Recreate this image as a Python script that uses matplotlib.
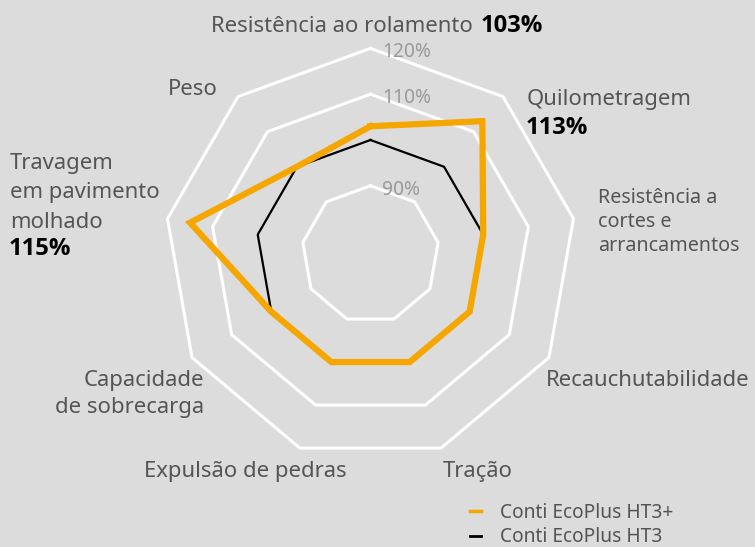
import numpy as np
import matplotlib.pyplot as plt
from matplotlib.lines import Line2D

plt.rcParams["font.family"] = ["Noto Sans", "DejaVu Sans"]

# ---- data -------------------------------------------------------------
categories = [
    "Resistência ao rolamento",
    "Quilometragem",
    "Resistência a\ncortes e\narrancamentos",
    "Recauchutabilidade",
    "Tração",
    "Expulsão de pedras",
    "Capacidade\nde sobrecarga",
    "Travagem\nem pavimento\nmolhado",
    "Peso",
]
ht3_plus = [103, 113, 100, 100, 100, 100, 100, 115, 100]
ht3 = [100, 100, 100, 100, 100, 100, 100, 100, 100]
ring_levels = [90, 110, 120]
ring_labels = ["90%", "110%", "120%"]
series_names = ["Conti EcoPlus HT3+", "Conti EcoPlus HT3"]

# ---- style ------------------------------------------------------------
BG = "#dcdcdc"
ORANGE = "#f5a700"
LABEL = "#555555"
RINGTXT = "#9a9a9a"
BOLD_FAMILY = ["Open Sans", "Lato", "DejaVu Sans"]
W, H = 755, 547


def fx(x):
    return x / W


def fy(y):
    return 1 - y / H


fig = plt.figure(figsize=(W / 100, H / 100), dpi=100, facecolor=BG)
ax = fig.add_axes([0.1874, 0.1161, 0.6066, 0.8373], projection="polar")
ax.set_theta_offset(np.pi / 2)
ax.set_theta_direction(-1)
ax.set_ylim(75, 125)
ax.set_axis_off()

n = len(categories)
theta = np.linspace(0, 2 * np.pi, n, endpoint=False)
theta_c = np.append(theta, theta[0])

# grid rings (nonagons)
for lvl, lab in zip(ring_levels, ring_labels):
    ax.plot(theta_c, [lvl] * (n + 1), color="white", lw=2.2, zorder=1)
    ax.annotate(lab, xy=(0, lvl), xytext=(12, -4), textcoords="offset pixels",
                ha="left", va="center", fontsize=13.8, color=RINGTXT, zorder=2)

# series
ax.plot(theta_c, ht3 + ht3[:1], color="black", lw=1.6, zorder=3)
ax.plot(theta_c, ht3_plus + ht3_plus[:1], color=ORANGE, lw=4.5, zorder=4,
        solid_joinstyle="miter")

# ---- category labels --------------------------------------------------
fs = 15.9
small = 14.2


def bold(x, y, s, **kw):
    fig.text(fx(x), fy(y), s, va="center", fontsize=17.2, color="black",
             weight="bold", family=BOLD_FAMILY, **kw)


fig.text(fx(473), fy(27), categories[0], ha="right", va="center", fontsize=fs, color=LABEL)
bold(481, 26, f"{ht3_plus[0]}%", ha="left")
fig.text(fx(527), fy(100), categories[1], ha="left", va="center", fontsize=fs, color=LABEL)
bold(526, 128, f"{ht3_plus[1]}%", ha="left")
fig.text(fx(598), fy(222), categories[2], ha="left", va="center", fontsize=small,
         color=LABEL, linespacing=1.28)
fig.text(fx(546), fy(380), categories[3], ha="left", va="center", fontsize=fs, color=LABEL)
fig.text(fx(443), fy(471), categories[4], ha="left", va="center", fontsize=fs, color=LABEL)
fig.text(fx(347), fy(471), categories[5], ha="right", va="center", fontsize=fs, color=LABEL)
fig.text(fx(204), fy(394), categories[6], ha="right", va="center", fontsize=fs,
         color=LABEL, linespacing=1.4, multialignment="right")
fig.text(fx(10), fy(193), categories[7], ha="left", va="center", fontsize=fs,
         color=LABEL, linespacing=1.52)
bold(9, 249, f"{ht3_plus[7]}%", ha="left")
fig.text(fx(218), fy(90), categories[8], ha="right", va="center", fontsize=fs, color=LABEL)

# ---- legend -----------------------------------------------------------
handles = [Line2D([], [], color=ORANGE, lw=2.5), Line2D([], [], color="black", lw=2)]
fig.legend(handles, series_names, loc="center left", bbox_to_anchor=(fx(470), fy(525)),
           frameon=False, handlelength=0.55, handletextpad=1.0, fontsize=13.8,
           labelcolor=LABEL, borderpad=0, borderaxespad=0, labelspacing=0.25)

fig.savefig("out.png", dpi=100, facecolor=BG)
